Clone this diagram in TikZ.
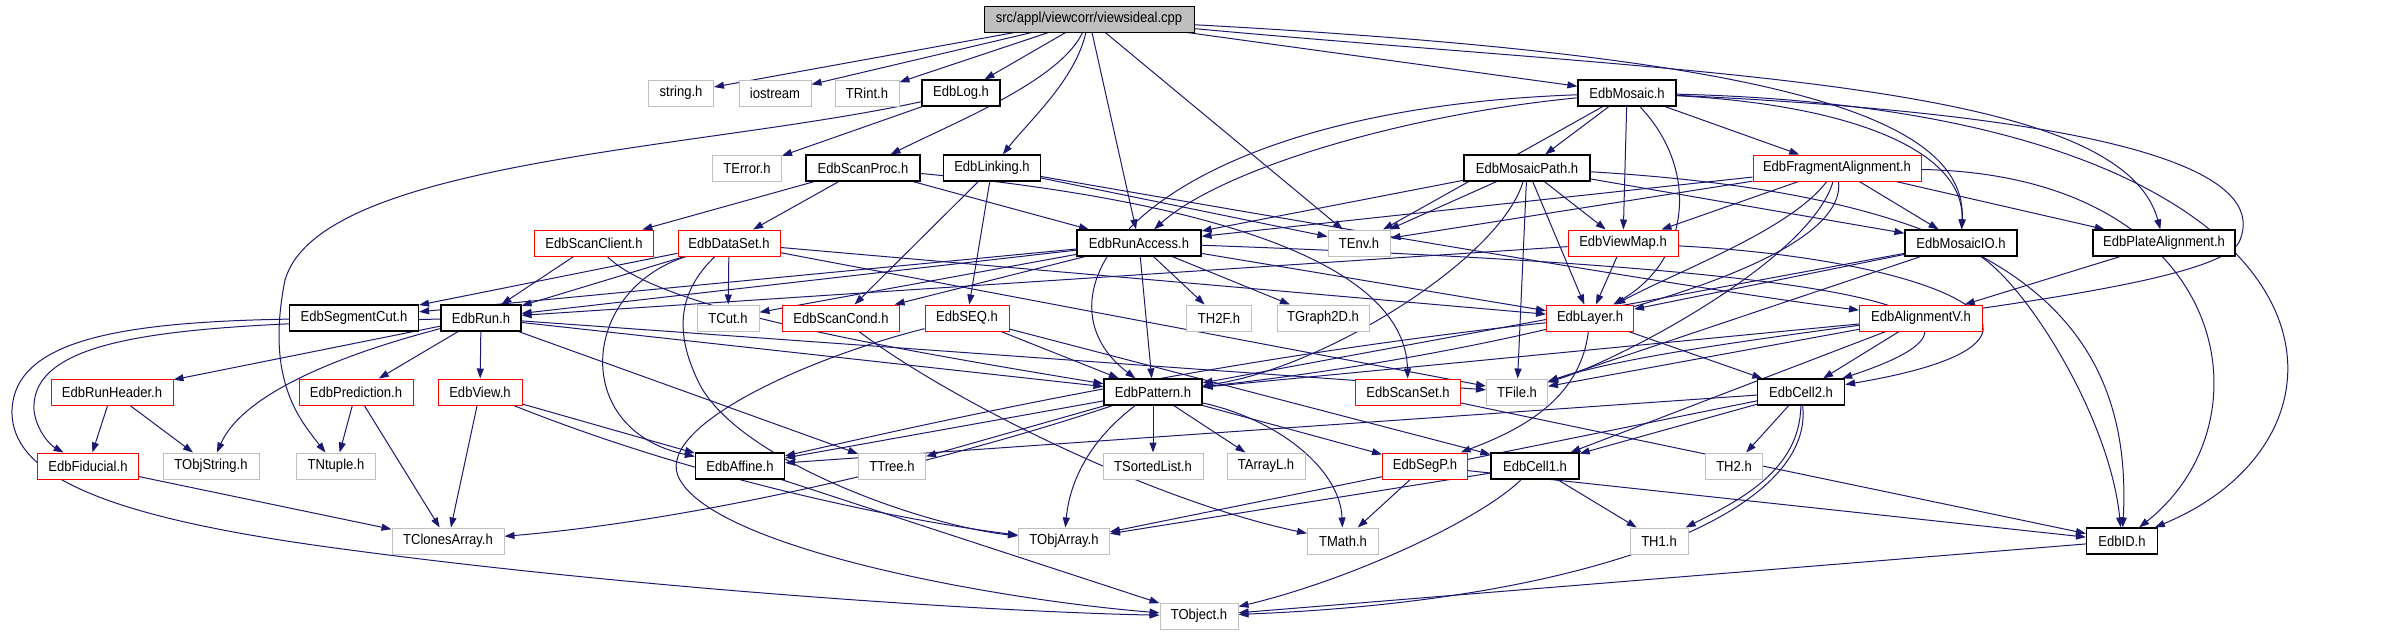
\documentclass[tikz,border=0pt]{standalone}
\usepackage{fontspec}
\setmainfont[FakeStretch=0.9]{Liberation Sans}
\usetikzlibrary{arrows.meta}
\definecolor{edgec}{HTML}{191970}
\definecolor{greyc}{HTML}{BFBFBF}
\pgfdeclarelayer{bg}
\pgfsetlayers{bg,main}
\begin{document}
\begin{tikzpicture}[x=1pt,y=-1pt,
  nd/.style={rectangle, draw, fill=white, minimum height=26pt, inner sep=0pt,
    font=\fontsize{14.5}{16}\selectfont, line width=1pt},
  bn/.style={nd, draw=black, line width=1.2pt},
  rn/.style={nd, draw=red},
  gn/.style={nd, draw=greyc},
  mn/.style={nd, draw=black, fill=greyc},
  ed/.style={draw=edgec, line width=1pt, -{Triangle[length=10pt,width=7pt]}}
]
\useasboundingbox (0,0) rectangle (2381,635);
% row 0
\node[mn, minimum width=210pt] (cpp) at (1089,19) {src/appl/viewcorr/viewsideal.cpp};
% row 1
\node[gn, minimum width=65pt] (string) at (681,93) {string.h};
\node[gn, minimum width=72pt] (iostream) at (775,93) {iostream};
\node[gn, minimum width=64pt] (trint) at (867,93) {TRint.h};
\node[bn, minimum width=78pt] (edblog) at (961,93) {EdbLog.h};
\node[bn, minimum width=98pt] (edbmosaic) at (1627,93) {EdbMosaic.h};
% row 2
\node[gn, minimum width=69pt] (terror) at (747,168) {TError.h};
\node[bn, minimum width=114pt] (scanproc) at (863,168) {EdbScanProc.h};
\node[bn, minimum width=97pt] (linking) at (992,168) {EdbLinking.h};
\node[bn, minimum width=126pt] (mosaicpath) at (1527,168) {EdbMosaicPath.h};
\node[rn, minimum width=168pt] (fragalign) at (1837,168) {EdbFragmentAlignment.h};
% row 3
\node[rn, minimum width=119pt] (scanclient) at (594,243) {EdbScanClient.h};
\node[rn, minimum width=102pt] (dataset) at (729,243) {EdbDataSet.h};
\node[bn, minimum width=124pt] (runaccess) at (1139,243) {EdbRunAccess.h};
\node[gn, minimum width=62pt] (tenv) at (1359,243) {TEnv.h};
\node[rn, minimum width=110pt] (viewmap) at (1623,243) {EdbViewMap.h};
\node[bn, minimum width=112pt] (mosaicio) at (1961,243) {EdbMosaicIO.h};
\node[bn, minimum width=142pt] (platealign) at (2164,243) {EdbPlateAlignment.h};
% row 4
\node[bn, minimum width=129pt] (segcut) at (354,318) {EdbSegmentCut.h};
\node[bn, minimum width=80pt] (edbrun) at (481,318) {EdbRun.h};
\node[gn, minimum width=62pt] (tcut) at (728,318) {TCut.h};
\node[rn, minimum width=117pt] (scancond) at (841,318) {EdbScanCond.h};
\node[rn, minimum width=84pt] (seq) at (967,318) {EdbSEQ.h};
\node[gn, minimum width=65pt] (th2f) at (1219,318) {TH2F.h};
\node[gn, minimum width=92pt] (tgraph) at (1323,318) {TGraph2D.h};
\node[rn, minimum width=87pt] (layer) at (1590,318) {EdbLayer.h};
\node[rn, minimum width=123pt] (alignv) at (1921,318) {EdbAlignmentV.h};
% row 5
\node[rn, minimum width=122pt] (runheader) at (112,392) {EdbRunHeader.h};
\node[rn, minimum width=114pt] (prediction) at (356,392) {EdbPrediction.h};
\node[rn, minimum width=84pt] (view) at (480,392) {EdbView.h};
\node[bn, minimum width=98pt] (pattern) at (1153,392) {EdbPattern.h};
\node[rn, minimum width=105pt] (scanset) at (1408,392) {EdbScanSet.h};
\node[gn, minimum width=61pt] (tfile) at (1517,392) {TFile.h};
\node[bn, minimum width=87pt] (cell2) at (1801,392) {EdbCell2.h};
% row 6
\node[rn, minimum width=101pt] (fiducial) at (88,466) {EdbFiducial.h};
\node[gn, minimum width=96pt] (tobjstring) at (211,466) {TObjString.h};
\node[gn, minimum width=79pt] (tntuple) at (336,466) {TNtuple.h};
\node[bn, minimum width=89pt] (affine) at (740,466) {EdbAffine.h};
\node[gn, minimum width=67pt] (ttree) at (892,466) {TTree.h};
\node[gn, minimum width=100pt] (tsorted) at (1153,466) {TSortedList.h};
\node[gn, minimum width=78pt] (tarrayl) at (1266,466) {TArrayL.h};
\node[rn, minimum width=85pt] (segp) at (1425,466) {EdbSegP.h};
\node[bn, minimum width=88pt] (cell1) at (1535,466) {EdbCell1.h};
\node[gn, minimum width=57pt] (th2) at (1734,466) {TH2.h};
% row 7
\node[gn, minimum width=112pt] (tclones) at (448,541) {TClonesArray.h};
\node[gn, minimum width=91pt] (tobjarray) at (1064,541) {TObjArray.h};
\node[gn, minimum width=71pt] (tmath) at (1343,541) {TMath.h};
\node[gn, minimum width=58pt] (th1) at (1659,541) {TH1.h};
\node[bn, minimum width=71pt] (edbid) at (2122,541) {EdbID.h};
% row 8
\node[gn, minimum width=78pt] (tobject) at (1199,616) {TObject.h};

\begin{pgfonlayer}{bg}
% cpp
\draw[ed] (cpp) -- (string);
\draw[ed] (cpp) -- (iostream);
\draw[ed] (cpp) -- (trint);
\draw[ed] (cpp) -- (edblog);
\draw[ed] (cpp) .. controls (1060,80) and (960,120) .. (scanproc);
\draw[ed] (cpp) .. controls (1075,80) and (1030,120) .. (linking);
\draw[ed] (cpp) -- (runaccess);
\draw[ed] (cpp) -- (tenv);
\draw[ed] (cpp) -- (edbmosaic);
\draw[ed] (cpp) .. controls (1750,55) and (1968,110) .. (mosaicio);
\draw[ed] (cpp) .. controls (1700,75) and (2120,80) .. (platealign);
% EdbLog
\draw[ed] (edblog) -- (terror);
\draw[ed] (edblog) .. controls (700,150) and (320,160) .. (285,280) .. controls (265,380) and (300,420) .. (tntuple);
% EdbScanProc
\draw[ed] (scanproc) -- (scanclient);
\draw[ed] (scanproc) -- (dataset);
\draw[ed] (scanproc) -- (runaccess);
\draw[ed] (scanproc) .. controls (1200,200) and (1405,260) .. (scanset);
% EdbLinking
\draw[ed] (linking) -- (scancond);
\draw[ed] (linking) -- (seq);
\draw[ed] (linking) -- (tenv);
\draw[ed] (linking) .. controls (1350,230) and (1700,290) .. (alignv);
% EdbMosaic
\draw[ed] (edbmosaic) -- (mosaicpath);
\draw[ed] (edbmosaic) -- (fragalign);
\draw[ed] (edbmosaic) -- (viewmap);
\draw[ed] (edbmosaic) -- (tenv);
\draw[ed] (edbmosaic) .. controls (1400,115) and (1220,170) .. (runaccess);
\draw[ed] (edbmosaic) .. controls (1150,110) and (1020,290) .. (pattern);
\draw[ed] (edbmosaic) .. controls (1700,170) and (1690,260) .. (layer);
\draw[ed] (edbmosaic) .. controls (1850,105) and (1965,150) .. (mosaicio);
\draw[ed] (edbmosaic) .. controls (2200,120) and (2260,190) .. (2240,240) .. controls (2220,300) and (1700,330) .. (tfile);
\draw[ed] (edbmosaic) .. controls (2350,110) and (2390,430) .. (edbid);
% EdbMosaicPath
\draw[ed] (mosaicpath) -- (runaccess);
\draw[ed] (mosaicpath) -- (tenv);
\draw[ed] (mosaicpath) -- (viewmap);
\draw[ed] (mosaicpath) -- (layer);
\draw[ed] (mosaicpath) -- (tfile);
\draw[ed] (mosaicpath) -- (mosaicio);
\draw[ed] (mosaicpath) .. controls (1500,260) and (1320,370) .. (pattern);
\draw[ed] (mosaicpath) .. controls (1980,195) and (2135,300) .. (edbid);
% EdbFragmentAlignment
\draw[ed] (fragalign) -- (runaccess);
\draw[ed] (fragalign) -- (tenv);
\draw[ed] (fragalign) -- (viewmap);
\draw[ed] (fragalign) -- (mosaicio);
\draw[ed] (fragalign) -- (platealign);
\draw[ed] (fragalign) .. controls (1790,230) and (1680,270) .. (layer);
\draw[ed] (fragalign) .. controls (1850,280) and (1450,360) .. (pattern);
\draw[ed] (fragalign) .. controls (1810,260) and (1620,360) .. (tfile);
\draw[ed] (fragalign) .. controls (2230,175) and (2275,420) .. (edbid);
% EdbPlateAlignment
\draw[ed] (platealign) -- (alignv);
% EdbViewMap
\draw[ed] (viewmap) -- (layer);
\draw[ed] (viewmap) -- (edbrun);
\draw[ed] (viewmap) .. controls (1950,260) and (2110,340) .. (cell2);
% EdbMosaicIO
\draw[ed] (mosaicio) -- (layer);
\draw[ed] (mosaicio) -- (pattern);
\draw[ed] (mosaicio) -- (tfile);
\draw[ed] (mosaicio) .. controls (2030,290) and (2110,420) .. (edbid);
% EdbRunAccess
\draw[ed] (runaccess) -- (edbrun);
\draw[ed] (runaccess) -- (segcut);
\draw[ed] (runaccess) -- (tcut);
\draw[ed] (runaccess) -- (scancond);
\draw[ed] (runaccess) -- (th2f);
\draw[ed] (runaccess) -- (tgraph);
\draw[ed] (runaccess) -- (pattern);
\draw[ed] (runaccess) -- (layer);
\draw[ed] (runaccess) .. controls (1750,265) and (2080,300) .. (cell2);
% EdbDataSet
\draw[ed] (dataset) -- (segcut);
\draw[ed] (dataset) -- (edbrun);
\draw[ed] (dataset) -- (tcut);
\draw[ed] (dataset) -- (layer);
\draw[ed] (dataset) -- (tfile);
\draw[ed] (dataset) .. controls (580,290) and (570,430) .. (affine);
\draw[ed] (dataset) .. controls (680,290) and (672,330) .. (700,385) .. controls (740,460) and (920,525) .. (tobjarray);
% EdbScanClient
\draw[ed] (scanclient) -- (edbrun);
\draw[ed] (scanclient) .. controls (660,310) and (900,350) .. (pattern);
% EdbScanCond, EdbSEQ
\draw[ed] (scancond) .. controls (950,400) and (1150,500) .. (tmath);
\draw[ed] (seq) -- (pattern);
\draw[ed] (seq) -- (cell1);
\draw[ed] (seq) .. controls (800,360) and (650,430) .. (680,480) .. controls (720,550) and (1000,600) .. (tobject);
% EdbLayer
\draw[ed] (layer) -- (cell2);
\draw[ed] (layer) .. controls (1200,360) and (900,430) .. (affine);
\draw[ed] (layer) .. controls (1580,400) and (1520,430) .. (segp);
% EdbAlignmentV
\draw[ed] (alignv) -- (cell2);
\draw[ed] (alignv) -- (cell1);
\draw[ed] (alignv) -- (tfile);
\draw[ed] (alignv) -- (pattern);
% EdbSegmentCut
\draw[ed] (segcut) .. controls (120,322) and (15,340) .. (12,410) .. controls (10,480) and (120,520) .. (350,550) .. controls (650,590) and (1000,612) .. (tobject);
% EdbRun
\draw[ed] (edbrun) -- (runheader);
\draw[ed] (edbrun) -- (prediction);
\draw[ed] (edbrun) -- (view);
\draw[ed] (edbrun) -- (ttree);
\draw[ed] (edbrun) -- (tfile);
\draw[ed] (edbrun) -- (pattern);
\draw[ed] (edbrun) .. controls (320,360) and (240,400) .. (tobjstring);
\draw[ed] (edbrun) .. controls (200,325) and (30,330) .. (34,410) .. controls (36,430) and (50,445) .. (fiducial);
% EdbRunHeader, EdbPrediction, EdbView, EdbFiducial
\draw[ed] (runheader) -- (fiducial);
\draw[ed] (runheader) -- (tobjstring);
\draw[ed] (prediction) -- (tntuple);
\draw[ed] (prediction) -- (tclones);
\draw[ed] (view) -- (tclones);
\draw[ed] (view) -- (affine);
\draw[ed] (view) .. controls (700,480) and (900,520) .. (tobjarray);
\draw[ed] (fiducial) -- (tclones);
% EdbPattern
\draw[ed] (pattern) .. controls (950,460) and (700,520) .. (tclones);
\draw[ed] (pattern) -- (affine);
\draw[ed] (pattern) -- (ttree);
\draw[ed] (pattern) .. controls (1090,440) and (1070,480) .. (tobjarray);
\draw[ed] (pattern) -- (tsorted);
\draw[ed] (pattern) -- (tarrayl);
\draw[ed] (pattern) -- (segp);
\draw[ed] (pattern) .. controls (1280,420) and (1340,470) .. (tmath);
% EdbScanSet
\draw[ed] (scanset) -- (edbid);
% EdbCell2
\draw[ed] (cell2) -- (cell1);
\draw[ed] (cell2) -- (th2);
\draw[ed] (cell2) -- (affine);
\draw[ed] (cell2) -- (tobjarray);
\draw[ed] (cell2) .. controls (1800,470) and (1740,500) .. (th1);
\draw[ed] (cell2) .. controls (1815,510) and (1600,600) .. (tobject);
% EdbCell1, EdbSegP, EdbAffine, EdbID
\draw[ed] (cell1) -- (tobjarray);
\draw[ed] (cell1) -- (th1);
\draw[ed] (cell1) .. controls (1480,520) and (1350,580) .. (tobject);
\draw[ed] (segp) -- (tmath);
\draw[ed] (segp) -- (edbid);
\draw[ed] (affine) -- (tobject);
\draw[ed] (edbid) -- (tobject);
\end{pgfonlayer}
\end{tikzpicture}
\end{document}
